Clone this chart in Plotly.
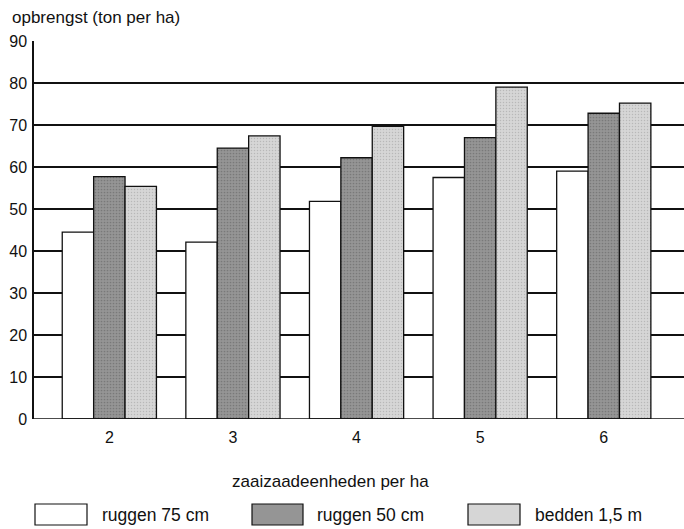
import plotly.graph_objects as go

categories = [2, 3, 4, 5, 6]
tick_labels = ["2", "3", "4", "5", "6"]
series_names = ["ruggen 75 cm", "ruggen 50 cm", "bedden 1,5 m"]
ruggen75 = [44.5, 42.1, 51.8, 57.5, 59.0]
ruggen50 = [57.7, 64.5, 62.2, 67.0, 72.8]
bedden15 = [55.4, 67.4, 69.7, 79.0, 75.2]
y_ticks = [0, 10, 20, 30, 40, 50, 60, 70, 80, 90]

W, H = 684, 529
L, R, T, B = 34, 0, 41, 110
PW, PH = W - L - R, H - T - B

def px(x):
    return (x - L) / PW

def py(y):
    return (H - B - y) / PH

FONT = "Liberation Sans, Arial, sans-serif"

styles = [
    dict(color="#ffffff"),
    dict(color="#8d8d8d", pattern=dict(shape=".", fgcolor="#5e5e5e", bgcolor="#959595", size=3, solidity=0.25)),
    dict(color="#d2d2d2", pattern=dict(shape=".", fgcolor="#9a9a9a", bgcolor="#d6d6d6", size=3, solidity=0.2)),
]

fig = go.Figure()
for name, vals, st in zip(series_names, [ruggen75, ruggen50, bedden15], styles):
    fig.add_trace(go.Bar(
        x=categories, y=vals, name=name,
        marker=dict(line=dict(color="#111111", width=1.3), **st),
        showlegend=False,
    ))

fig.update_layout(
    width=W, height=H,
    margin=dict(l=L, r=R, t=T, b=B, pad=0),
    paper_bgcolor="white", plot_bgcolor="white",
    barmode="group", bargap=0.238, bargroupgap=0,
    font=dict(family=FONT, size=16, color="#111111"),
    xaxis=dict(
        range=[1.3905, 6.649], tickvals=categories, ticktext=tick_labels,
        showgrid=False, zeroline=False, showline=False, ticks="",
        tickfont=dict(size=16), ticklabelstandoff=7,
    ),
    yaxis=dict(
        range=[0, 90], tickvals=y_ticks, showgrid=True, gridcolor="#111111", gridwidth=1.5,
        zeroline=False, showline=True, linecolor="#111111", linewidth=1.5, ticks="",
        tickfont=dict(size=16), ticklabelstandoff=2,
    ),
)

# baseline
fig.add_shape(type="line", xref="paper", yref="y", x0=0, x1=1, y0=0, y1=0,
              line=dict(color="#111111", width=1.6))

fig.add_annotation(text="opbrengst (ton per ha)", xref="paper", yref="paper",
                   x=px(10), y=py(17), xanchor="left", yanchor="middle",
                   showarrow=False, font=dict(size=17))
fig.add_annotation(text="zaaizaadeenheden per ha", xref="paper", yref="paper",
                   x=px(330), y=py(481), xanchor="center", yanchor="middle",
                   showarrow=False, font=dict(size=17))

legend_boxes = [(35, 87), (252, 303), (468, 520)]
legend_text_x = [100, 315, 533]
for (x0, x1), tx, name, st in zip(legend_boxes, legend_text_x, series_names, styles):
    fill = st.get("pattern", {}).get("bgcolor", st["color"])
    fig.add_shape(type="rect", xref="paper", yref="paper",
                  x0=px(x0), x1=px(x1), y0=py(504), y1=py(525),
                  line=dict(color="#111111", width=1.2), fillcolor=fill)
    fig.add_annotation(text=name, xref="paper", yref="paper",
                       x=px(tx), y=py(515), xanchor="left", yanchor="middle",
                       showarrow=False, font=dict(size=17.5))

fig.write_html("out.html", config={"displayModeBar": False},
               post_script="document.body.style.margin='0';document.body.style.overflow='hidden';")
